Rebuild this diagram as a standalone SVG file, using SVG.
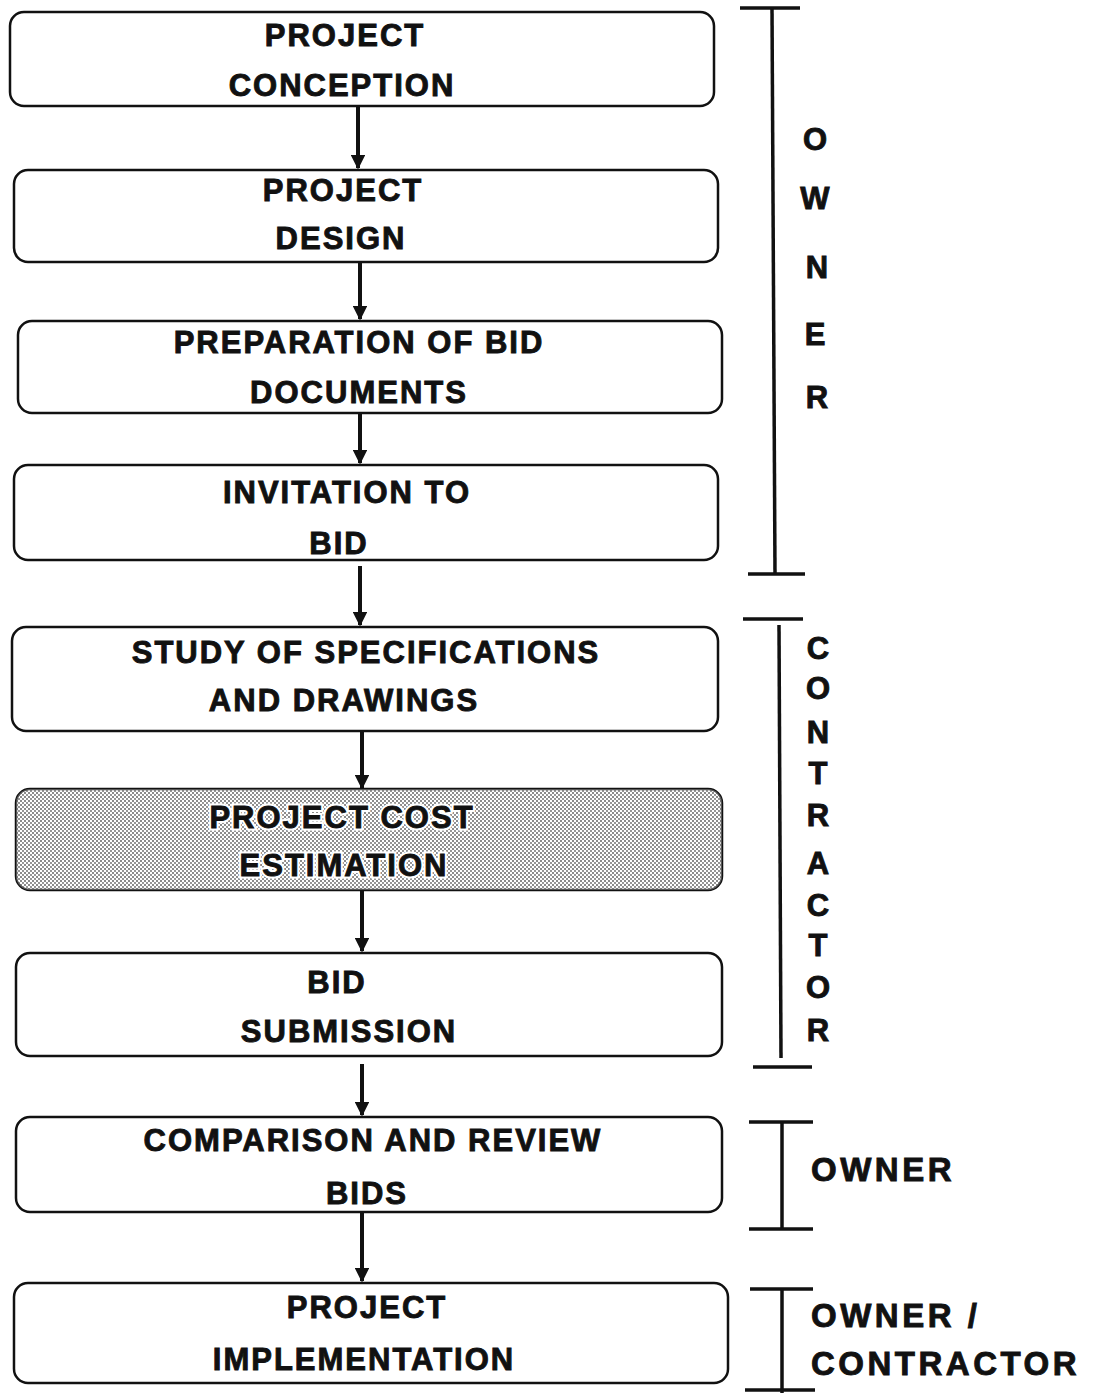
<svg xmlns="http://www.w3.org/2000/svg" width="1103" height="1393" viewBox="0 0 1103 1393">
<style>
.box{fill:#fff;stroke:#111;stroke-width:2.5}
.t{font-family:"Liberation Sans",Arial,sans-serif;font-weight:bold;font-size:31px;letter-spacing:2px;fill:#111;stroke:#111;stroke-width:0.9px;text-anchor:middle}
.side{font-family:"Liberation Sans",Arial,sans-serif;font-weight:bold;font-size:31px;fill:#111;stroke:#111;stroke-width:0.9px;text-anchor:middle}
.lab{font-family:"Liberation Sans",Arial,sans-serif;font-weight:bold;font-size:33px;letter-spacing:3.5px;fill:#111;stroke:#111;stroke-width:0.9px}
.conn line{stroke:#111;stroke-width:4}
.br line{stroke:#111;stroke-width:3.5}
.halo{stroke:#fff;stroke-width:5px;fill:#fff}
</style>
<defs>
<marker id="ah" viewBox="0 0 10 10" refX="9" refY="5" markerWidth="3.6" markerHeight="3.6" orient="auto" markerUnits="strokeWidth">
<path d="M0,0 L10,5 L0,10 z" fill="#111"/>
</marker>
<pattern id="stip" width="4" height="4" patternUnits="userSpaceOnUse">
<rect width="4" height="4" fill="#fff"/>
<circle cx="1" cy="1" r="1" fill="#222"/>
<circle cx="3" cy="3" r="0.9" fill="#222"/>
</pattern>
</defs>

<g id="node-conception">
<rect class="box" x="10" y="12" width="704" height="94" rx="14"/>
<text class="t" x="345" y="46">PROJECT</text>
<text class="t" x="342" y="96">CONCEPTION</text>
</g>
<g id="node-design">
<rect class="box" x="14" y="170" width="704" height="92" rx="14"/>
<text class="t" x="343" y="201">PROJECT</text>
<text class="t" x="341" y="249">DESIGN</text>
</g>
<g id="node-preparation">
<rect class="box" x="18" y="321" width="704" height="92" rx="14"/>
<text class="t" x="359" y="353">PREPARATION OF BID</text>
<text class="t" x="359" y="403">DOCUMENTS</text>
</g>
<g id="node-invitation">
<rect class="box" x="14" y="465" width="704" height="95" rx="14"/>
<text class="t" x="347" y="503">INVITATION TO</text>
<text class="t" x="339" y="554">BID</text>
</g>
<g id="node-study">
<rect class="box" x="12" y="627" width="706" height="104" rx="14"/>
<text class="t" x="366" y="663">STUDY OF SPECIFICATIONS</text>
<text class="t" x="344" y="711">AND DRAWINGS</text>
</g>
<g id="node-estimation">
<rect x="16" y="789" width="706" height="101" rx="14" fill="url(#stip)" stroke="#111" stroke-width="2.5"/>
<rect x="16" y="789" width="706" height="101" rx="14" fill="#fff" opacity="0.3"/>
<text class="t halo" x="342" y="828">PROJECT COST</text>
<text class="t halo" x="344" y="876">ESTIMATION</text>
<text class="t" x="342" y="828">PROJECT COST</text>
<text class="t" x="344" y="876">ESTIMATION</text>
</g>
<g id="node-submission">
<rect class="box" x="16" y="953" width="706" height="103" rx="14"/>
<text class="t" x="337" y="993">BID</text>
<text class="t" x="349" y="1042">SUBMISSION</text>
</g>
<g id="node-comparison">
<rect class="box" x="16" y="1117" width="706" height="95" rx="14"/>
<text class="t" x="373" y="1151">COMPARISON AND REVIEW</text>
<text class="t" x="367" y="1204">BIDS</text>
</g>
<g id="node-implementation">
<rect class="box" x="14" y="1283" width="714" height="100" rx="14"/>
<text class="t" x="367" y="1318">PROJECT</text>
<text class="t" x="364" y="1370">IMPLEMENTATION</text>
</g>

<g id="connectors" class="conn">
<line x1="358" y1="106" x2="358" y2="168" marker-end="url(#ah)"/>
<line x1="360" y1="262" x2="360" y2="319" marker-end="url(#ah)"/>
<line x1="360" y1="413" x2="360" y2="463" marker-end="url(#ah)"/>
<line x1="360" y1="566" x2="360" y2="625" marker-end="url(#ah)"/>
<line x1="362" y1="731" x2="362" y2="788" marker-end="url(#ah)"/>
<line x1="362" y1="890" x2="362" y2="951" marker-end="url(#ah)"/>
<line x1="362" y1="1064" x2="362" y2="1115" marker-end="url(#ah)"/>
<line x1="362" y1="1212" x2="362" y2="1281" marker-end="url(#ah)"/>
</g>

<g id="bracket-owner" class="br">
<line x1="740" y1="8" x2="800" y2="8"/>
<line x1="772" y1="8" x2="775" y2="574"/>
<line x1="748" y1="574" x2="805" y2="574"/>
<text class="side" x="815" y="150">O</text>
<text class="side" x="815" y="209">W</text>
<text class="side" x="817" y="278">N</text>
<text class="side" x="815" y="345">E</text>
<text class="side" x="817" y="408">R</text>
</g>
<g id="bracket-contractor" class="br">
<line x1="743" y1="619" x2="803" y2="619"/>
<line x1="779" y1="625" x2="781" y2="1058"/>
<line x1="753" y1="1067" x2="812" y2="1067"/>
<text class="side" x="818" y="659">C</text>
<text class="side" x="818" y="699">O</text>
<text class="side" x="818" y="743">N</text>
<text class="side" x="818" y="784">T</text>
<text class="side" x="818" y="826">R</text>
<text class="side" x="818" y="874">A</text>
<text class="side" x="818" y="916">C</text>
<text class="side" x="818" y="956">T</text>
<text class="side" x="818" y="998">O</text>
<text class="side" x="818" y="1041">R</text>
</g>
<g id="bracket-owner2" class="br">
<line x1="749" y1="1122" x2="813" y2="1122"/>
<line x1="782" y1="1122" x2="782" y2="1229"/>
<line x1="749" y1="1229" x2="813" y2="1229"/>
<text class="lab" x="811" y="1181">OWNER</text>
</g>
<g id="bracket-owner-contractor" class="br">
<line x1="750" y1="1289" x2="813" y2="1289"/>
<line x1="782" y1="1289" x2="782" y2="1393"/>
<line x1="745" y1="1390" x2="815" y2="1390"/>
<text class="lab" x="811" y="1327">OWNER /</text>
<text class="lab" x="811" y="1375">CONTRACTOR</text>
</g>
</svg>
